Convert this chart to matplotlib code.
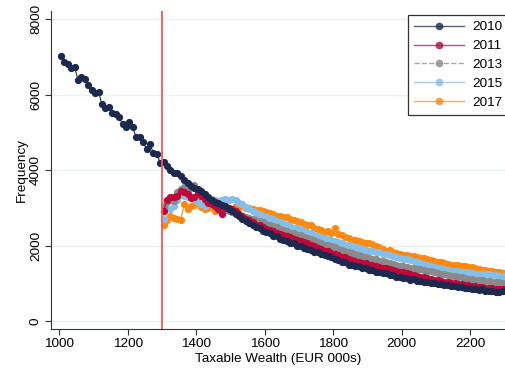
import matplotlib
matplotlib.use("Agg")
import matplotlib.pyplot as plt
from matplotlib.lines import Line2D

plt.rcParams['font.family'] = ['Liberation Sans', 'DejaVu Sans']

bins_2010 = list(range(1005, 2300, 10))
bins_post = list(range(1305, 2300, 10))
threshold = 1300

y2010 = [7020, 6880, 6830, 6700, 6730, 6390, 6460, 6410, 6260, 6125,
         6050, 6070, 5745, 5640, 5680, 5510, 5490, 5400, 5225, 5135,
         5290, 5135, 4870, 4890, 4755, 4560, 4690, 4460, 4430, 4200,
         4210, 4120, 4010, 3940, 3930, 3850, 3730, 3650, 3570, 3540,
         3500, 3450, 3380, 3290, 3220, 3160, 3120, 3070, 3040, 2960,
         2930, 2850, 2800, 2700, 2650, 2590, 2560, 2490, 2480, 2400,
         2360, 2330, 2250, 2250, 2180, 2150, 2130, 2080, 2070, 2000,
         2000, 1940, 1900, 1890, 1840, 1830, 1770, 1750, 1720, 1700,
         1640, 1630, 1570, 1570, 1500, 1500, 1450, 1450, 1400, 1400,
         1360, 1360, 1310, 1310, 1270, 1270, 1220, 1230, 1180, 1180,
         1140, 1150, 1100, 1110, 1070, 1070, 1040, 1050, 1000, 1010,
         980, 990, 950, 960, 920, 930, 900, 910, 870, 890,
         850, 860, 820, 850, 800, 810, 810, 780, 770, 790]

y2011 = [2930, 3220, 3300, 3280, 3330, 3440, 3420, 3380, 3260, 3290,
         3420, 3330, 3230, 3140, 3100, 3060, 2980, 2840, 3010, 2990,
         2960, 2910, 2830, 2790, 2720, 2680, 2620, 2560, 2540, 2490,
         2450, 2420, 2380, 2340, 2300, 2290, 2250, 2230, 2180, 2160,
         2130, 2100, 2060, 2020, 1980, 1950, 1900, 1870, 1850, 1800,
         1770, 1750, 1700, 1700, 1650, 1630, 1600, 1570, 1540, 1530,
         1500, 1490, 1450, 1440, 1420, 1410, 1380, 1360, 1340, 1310,
         1300, 1270, 1250, 1220, 1210, 1180, 1170, 1140, 1120, 1100,
         1080, 1070, 1050, 1040, 1020, 1000, 990, 980, 960, 950,
         940, 920, 910, 900, 880, 870, 870, 850, 840, 840]

y2013 = [3050, 3150, 3200, 3180, 3420, 3500, 3550, 3480, 3560, 3600,
         3480, 3350, 3200, 3150, 3130, 3160, 2950, 3000, 2950, 2920,
         2900, 2870, 2820, 2800, 2760, 2740, 2700, 2680, 2660, 2620,
         2580, 2560, 2510, 2490, 2450, 2420, 2400, 2340, 2330, 2290,
         2280, 2230, 2200, 2170, 2140, 2100, 2060, 2030, 2010, 1980,
         1960, 1920, 1890, 1860, 1830, 1810, 1780, 1760, 1730, 1700,
         1680, 1650, 1640, 1600, 1590, 1560, 1540, 1520, 1500, 1470,
         1450, 1440, 1420, 1410, 1390, 1370, 1350, 1330, 1320, 1290,
         1280, 1260, 1250, 1220, 1210, 1190, 1170, 1170, 1140, 1130,
         1120, 1100, 1100, 1080, 1070, 1060, 1040, 1050, 1030, 1020]

y2015 = [2700, 3000, 2980, 3060, 3200, 3350, 3330, 3280, 3300, 3250,
         3150, 3100, 3050, 3100, 3250, 3220, 3180, 3210, 3230, 3200,
         3240, 3210, 3120, 3100, 3020, 2980, 2930, 2860, 2840, 2790,
         2770, 2730, 2700, 2660, 2620, 2590, 2560, 2510, 2480, 2460,
         2430, 2390, 2370, 2330, 2290, 2260, 2220, 2190, 2170, 2140,
         2120, 2090, 2060, 2030, 2010, 1980, 1960, 1940, 1910, 1880,
         1870, 1860, 1830, 1820, 1790, 1780, 1750, 1720, 1700, 1680,
         1660, 1640, 1610, 1600, 1570, 1540, 1520, 1490, 1470, 1440,
         1420, 1400, 1380, 1360, 1340, 1320, 1320, 1300, 1290, 1290,
         1280, 1260, 1260, 1250, 1240, 1240, 1220, 1220, 1210, 1200]

y2017 = [2540, 2680, 2780, 2730, 2720, 2680, 3100, 2980, 3060, 3080,
         3120, 3020, 2980, 3000, 3050, 2920, 3030, 2950, 3080, 3000,
         2900, 3040, 3030, 3080, 3000, 2990, 2960, 2940, 2950, 2910,
         2900, 2880, 2840, 2800, 2790, 2760, 2750, 2700, 2690, 2650,
         2620, 2580, 2560, 2540, 2480, 2450, 2420, 2370, 2380, 2330,
         2460, 2300, 2280, 2240, 2200, 2160, 2150, 2120, 2090, 2070,
         2060, 2040, 2000, 1960, 1900, 1870, 1880, 1840, 1800, 1790,
         1760, 1750, 1730, 1720, 1690, 1680, 1670, 1640, 1610, 1590,
         1580, 1560, 1540, 1520, 1500, 1490, 1480, 1460, 1450, 1440,
         1430, 1400, 1380, 1360, 1350, 1330, 1320, 1300, 1290, 1280]

series = [
    ("2010", bins_2010, y2010, "#1b2a4e", "-"),
    ("2011", bins_post, y2011, "#c0073a", "-"),
    ("2013", bins_post, y2013, "#8a8a8a", "--"),
    ("2015", bins_post, y2015, "#85bfe9", "-"),
    ("2017", bins_post, y2017, "#ff8a0f", "-"),
]

xticks = [1000, 1200, 1400, 1600, 1800, 2000, 2200]
yticks = [0, 2000, 4000, 6000, 8000]
fs = 9.7

fig = plt.figure(figsize=(5.05, 3.69), dpi=100)
ax = fig.add_axes([0.101, 0.108, 0.899, 0.862])

for y in yticks:
    ax.axhline(y, color="#e9f1f2", lw=1.0, zorder=0)

handles = []
n = len(series)
for i, (lab, xs, ys, col, ls) in enumerate(series):
    ax.plot(xs, ys, color=col, ls=ls, lw=0.8, marker="o", ms=4.2,
            mec=col, mfc=col, zorder=2 + (n - i))
    handles.append(Line2D([0], [0], color=col, ls=ls, lw=1.0, alpha=0.75,
                          marker="o", ms=4.5, mec=col, mfc=col))

ax.axvline(threshold, color="#ff5555", lw=1.3, zorder=10)

ax.set_xlim(976, 2302)
ax.set_ylim(-212, 8220)
ax.set_xticks(xticks)
ax.set_yticks(yticks)
ax.tick_params(axis="both", labelsize=fs, length=4, width=0.8, color="#333333",
               pad=2.5)
for lab in ax.get_yticklabels():
    lab.set_rotation(90)
    lab.set_va("center")
ax.spines["top"].set_visible(False)
ax.spines["right"].set_visible(False)
ax.spines["left"].set_color("#333333")
ax.spines["bottom"].set_color("#333333")
ax.set_xlabel("Taxable Wealth (EUR 000s)", fontsize=fs, labelpad=2)
ax.set_ylabel("Frequency", fontsize=fs, labelpad=1.5)

leg = fig.legend(handles, [s[0] for s in series], loc="upper left",
                 bbox_to_anchor=(408 / 505, 1 - 15 / 369), fontsize=fs,
                 frameon=True, fancybox=False, edgecolor="#333333",
                 framealpha=1, handlelength=3.7, borderpad=0.45,
                 labelspacing=0.47, handletextpad=0.65, borderaxespad=0)
leg.get_frame().set_linewidth(0.9)

fig.savefig("out.png", dpi=100)
